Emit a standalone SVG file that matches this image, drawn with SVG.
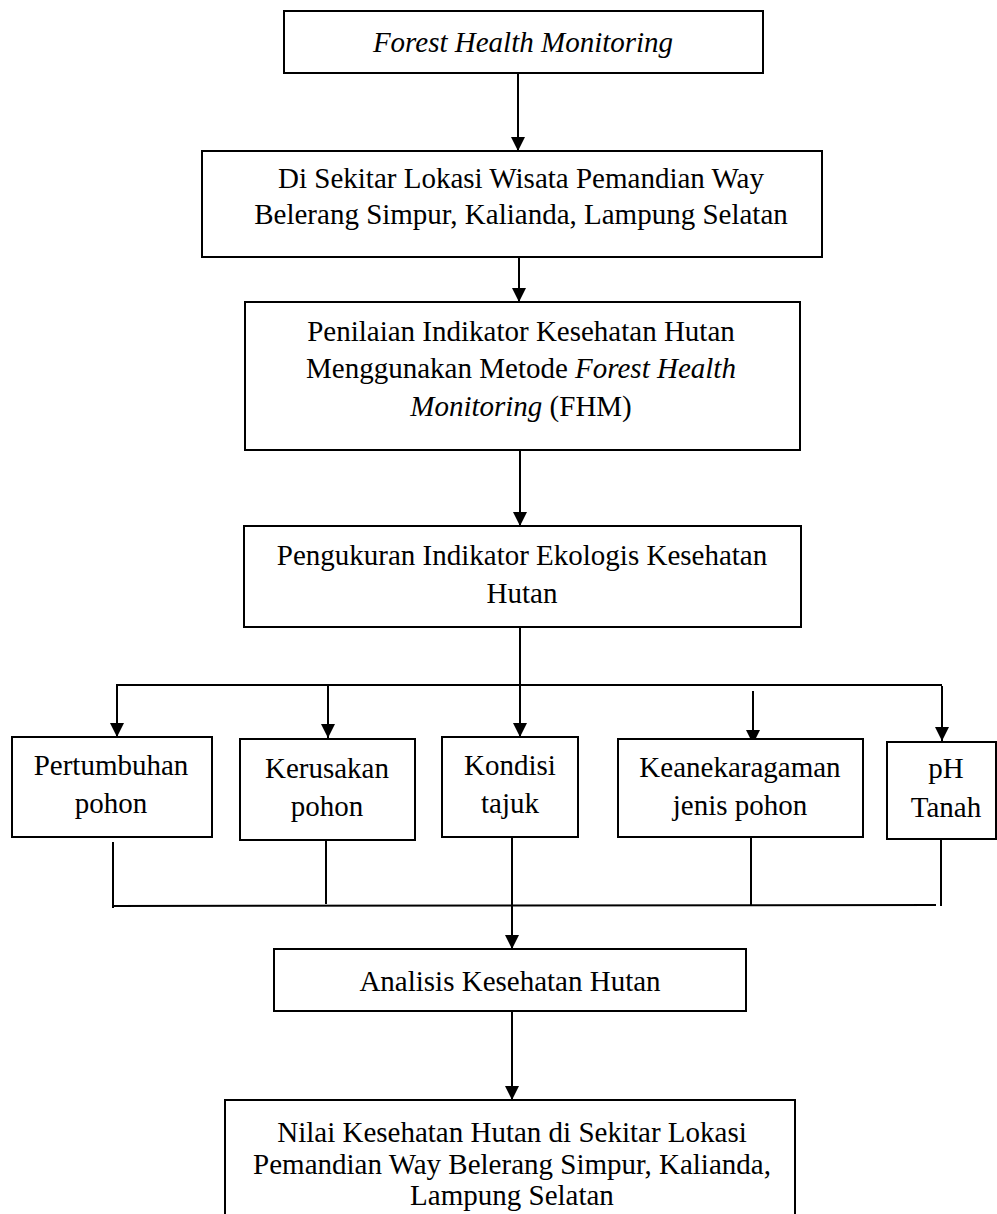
<svg xmlns="http://www.w3.org/2000/svg" width="997" height="1214" viewBox="0 0 997 1214">
<style>
.box{fill:#fff;stroke:#000;stroke-width:2}
.t{font-family:"Liberation Serif","Times New Roman",serif;font-size:29px;fill:#000;text-anchor:middle}
.i{font-style:italic}
.ln{fill:none;stroke:#000;stroke-width:2}
</style>
<defs>
<marker id="ah" markerUnits="userSpaceOnUse" markerWidth="16" markerHeight="16" refX="14" refY="7" orient="auto">
<path d="M0,0 L14,7 L0,14 Z" fill="#000"/>
</marker>
</defs>
<rect width="997" height="1214" fill="#fff"/>
<g id="connectors">
<line class="ln" x1="518" y1="73" x2="518" y2="151" marker-end="url(#ah)"/>
<line class="ln" x1="519" y1="257" x2="519" y2="302" marker-end="url(#ah)"/>
<line class="ln" x1="520" y1="450" x2="520" y2="526" marker-end="url(#ah)"/>
<line class="ln" x1="520" y1="627" x2="520" y2="685"/>
<line class="ln" x1="116" y1="685" x2="942" y2="685"/>
<line class="ln" x1="117" y1="685" x2="117" y2="737" marker-end="url(#ah)"/>
<line class="ln" x1="328" y1="685" x2="328" y2="738" marker-end="url(#ah)"/>
<line class="ln" x1="520" y1="685" x2="520" y2="737" marker-end="url(#ah)"/>
<line class="ln" x1="753" y1="691" x2="753" y2="744" marker-end="url(#ah)"/>
<line class="ln" x1="942" y1="686" x2="942" y2="741" marker-end="url(#ah)"/>
<line class="ln" x1="113" y1="842" x2="113" y2="908"/>
<line class="ln" x1="326" y1="840" x2="326" y2="904"/>
<line class="ln" x1="751" y1="838" x2="751" y2="905"/>
<line class="ln" x1="941" y1="840" x2="941" y2="906"/>
<line class="ln" x1="113" y1="906" x2="936" y2="905"/>
<line class="ln" x1="512" y1="838" x2="512" y2="949" marker-end="url(#ah)"/>
<line class="ln" x1="512" y1="1011" x2="512" y2="1100" marker-end="url(#ah)"/>
</g>
<g id="n1">
<rect class="box" x="284" y="11" width="479" height="62"/>
<text class="t i" x="523" y="52">Forest Health Monitoring</text>
</g>
<g id="n2">
<rect class="box" x="202" y="151" width="620" height="106"/>
<text class="t" x="521" y="188">Di Sekitar Lokasi Wisata Pemandian Way</text>
<text class="t" x="521" y="224">Belerang Simpur, Kalianda, Lampung Selatan</text>
</g>
<g id="n3">
<rect class="box" x="245" y="302" width="555" height="148"/>
<text class="t" x="521" y="341">Penilaian Indikator Kesehatan Hutan</text>
<text class="t" x="521" y="378">Menggunakan Metode <tspan class="i">Forest Health</tspan></text>
<text class="t" x="521" y="416"><tspan class="i">Monitoring</tspan> (FHM)</text>
</g>
<g id="n4">
<rect class="box" x="244" y="526" width="557" height="101"/>
<text class="t" x="522" y="565">Pengukuran Indikator Ekologis Kesehatan</text>
<text class="t" x="522" y="603">Hutan</text>
</g>
<g id="n5">
<rect class="box" x="12" y="737" width="200" height="100"/>
<text class="t" x="111" y="775">Pertumbuhan</text>
<text class="t" x="111" y="813">pohon</text>
</g>
<g id="n6">
<rect class="box" x="240" y="739" width="175" height="101"/>
<text class="t" x="327" y="778">Kerusakan</text>
<text class="t" x="327" y="816">pohon</text>
</g>
<g id="n7">
<rect class="box" x="442" y="737" width="136" height="100"/>
<text class="t" x="510" y="775">Kondisi</text>
<text class="t" x="510" y="813">tajuk</text>
</g>
<g id="n8">
<rect class="box" x="618" y="739" width="245" height="98"/>
<text class="t" x="740" y="777">Keanekaragaman</text>
<text class="t" x="740" y="815">jenis pohon</text>
</g>
<g id="n9">
<rect class="box" x="887" y="742" width="109" height="97"/>
<text class="t" x="946" y="778">pH</text>
<text class="t" x="946" y="817">Tanah</text>
</g>
<g id="n10">
<rect class="box" x="274" y="949" width="472" height="62"/>
<text class="t" x="510" y="991">Analisis Kesehatan Hutan</text>
</g>
<g id="n11">
<rect class="box" x="225" y="1100" width="570" height="125"/>
<text class="t" x="512" y="1142">Nilai Kesehatan Hutan di Sekitar Lokasi</text>
<text class="t" x="512" y="1174">Pemandian Way Belerang Simpur, Kalianda,</text>
<text class="t" x="512" y="1205">Lampung Selatan</text>
</g>
</svg>
